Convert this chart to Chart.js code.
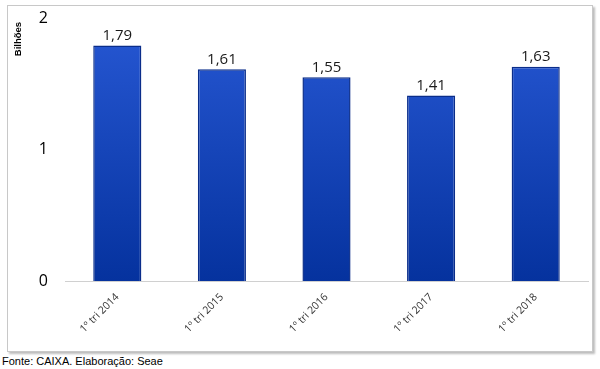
<!DOCTYPE html>
<html>
<head>
<meta charset="utf-8">
<script src="https://cdn.jsdelivr.net/npm/chart.js@4"></script>
<style>
    body { margin: 0; background: #fff; width: 600px; height: 369px; position: relative; overflow: hidden; }
    #moldura { position: absolute; left: 7px; top: 5px; width: 584px; height: 345px; border: 1px solid #c8c8c8; box-shadow: 2px 2px 2px #bdbdbd; background: #fff; }
    #fonte { position: absolute; left: 2px; top: 355px; font: 11px "Liberation Sans", Arial, sans-serif; color: #000; }
</style>
</head>
<body>
<div id="moldura"><canvas id="grafico" width="584" height="345"></canvas></div>
<div id="fonte">Fonte: CAIXA. Elaboração: Seae</div>
<script>
const periodos = ['1º tri 2014', '1º tri 2015', '1º tri 2016', '1º tri 2017', '1º tri 2018'];
const valores = [1.79, 1.61, 1.55, 1.41, 1.63];
const ticksY = [0, 1, 2];

// rótulos com vírgula decimal acima das barras
const rotulosBarras = {
    id: 'rotulosBarras',
    afterDatasetsDraw(chart) {
        const ctx = chart.ctx;
        const meta = chart.getDatasetMeta(0);
        ctx.save();
        ctx.font = '15px "Open Sans", "Noto Sans", sans-serif';
        ctx.fillStyle = '#1a1a1a';
        ctx.textAlign = 'center';
        ctx.textBaseline = 'bottom';
        meta.data.forEach((bar, i) => {
            ctx.fillText(valores[i].toFixed(2).replace('.', ','), bar.x, bar.y - 2);
        });
        // título do eixo y
        ctx.translate(10, 33);
        ctx.rotate(-Math.PI / 2);
        ctx.font = 'bold 9.5px "Liberation Sans", Arial, sans-serif';
        ctx.fillStyle = '#000';
        ctx.textBaseline = 'middle';
        ctx.fillText('Bilhões', 0, 0);
        ctx.restore();
    }
};

function gradienteBarra(context) {
    const area = context.chart.chartArea;
    if (!area) return '#1f4fc4';
    const g = context.chart.ctx.createLinearGradient(0, area.top, 0, area.bottom);
    g.addColorStop(0, '#2758d4');
    g.addColorStop(1, '#05329e');
    return g;
}

const ctxGrafico = document.getElementById('grafico').getContext('2d');
const grafico = new Chart(ctxGrafico, {
    type: 'bar',
    data: {
        labels: periodos,
        datasets: [{
            data: valores,
            backgroundColor: gradienteBarra,
            borderColor: '#0a2d8a',
            borderWidth: 1.5,
            barPercentage: 0.92,
            categoryPercentage: 0.5
        }]
    },
    options: {
        responsive: false,
        animation: false,
        layout: { padding: { top: 0, right: 4, left: 0, bottom: 0 } },
        plugins: { legend: { display: false }, tooltip: { enabled: false } },
        scales: {
            y: {
                min: 0,
                max: 2,
                afterBuildTicks: scale => { scale.ticks = ticksY.map(v => ({ value: v })); },
                afterFit: scale => { scale.width = 57; scale.paddingTop = 12; scale.paddingBottom = 0; },
                grid: { display: false, drawTicks: false },
                border: { display: false },
                ticks: {
                    padding: 17,
                    color: '#000',
                    font: { size: 16, family: '"Open Sans", "Noto Sans", sans-serif' }
                }
            },
            x: {
                afterFit: scale => { scale.height = 70; },
                grid: { display: false, drawTicks: false },
                border: { display: true, color: '#d0d0d0', width: 1 },
                ticks: {
                    maxRotation: 45,
                    minRotation: 45,
                    padding: 10,
                    color: '#333',
                    font: { size: 10.5, family: '"Open Sans", "Noto Sans", sans-serif' }
                }
            }
        }
    },
    plugins: [rotulosBarras]
});
</script>
</body>
</html>
